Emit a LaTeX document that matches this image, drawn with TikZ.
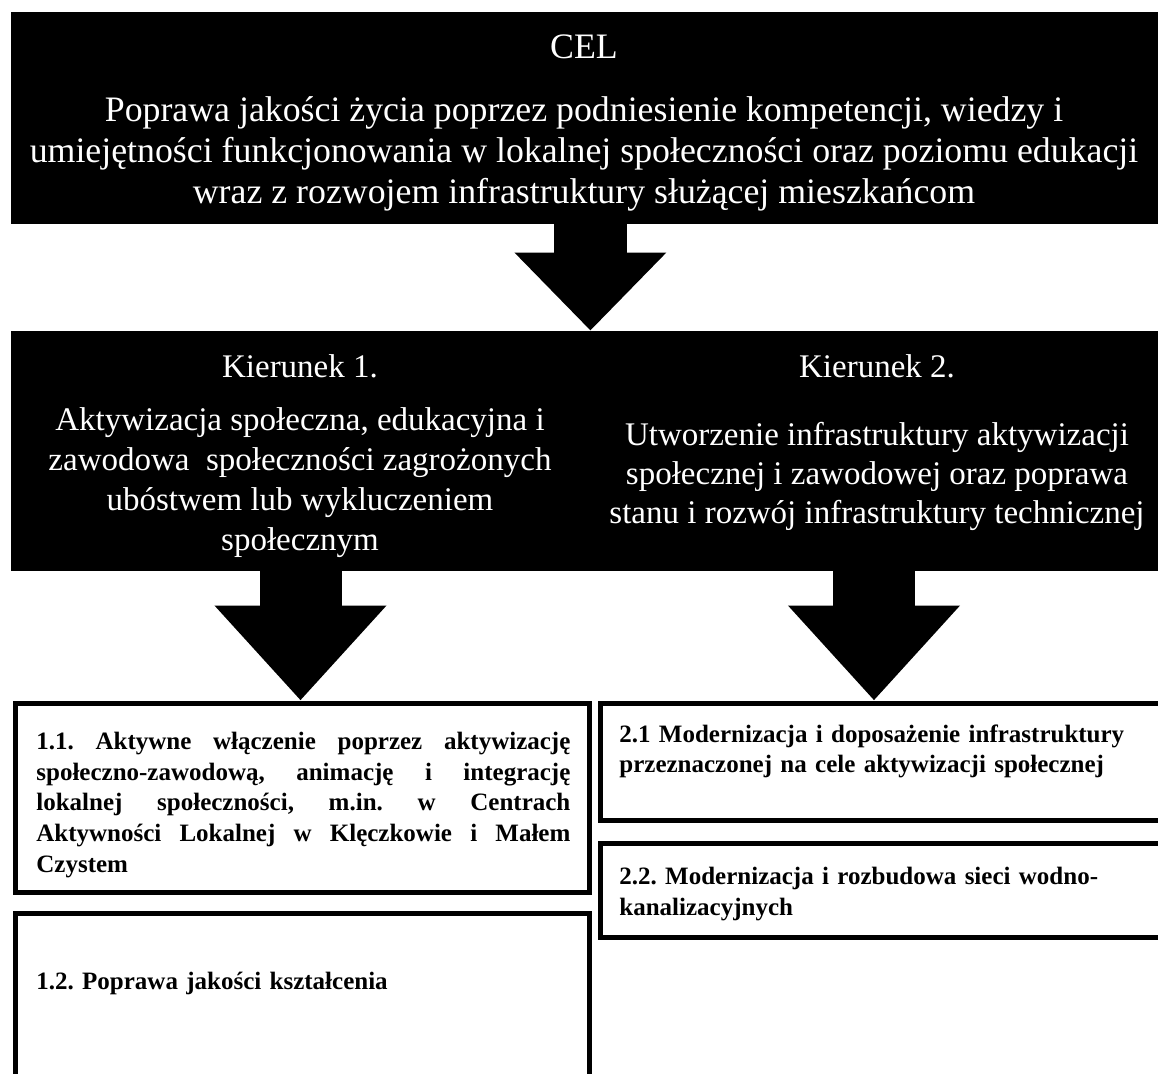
\documentclass[tikz,border=0pt]{standalone}
\usepackage{fontspec}
\setmainfont{Liberation Serif}
\usetikzlibrary{arrows.meta,fit,calc}

\begin{document}
\frenchspacing
\begin{tikzpicture}[x=0.5pt,y=-0.5pt,
  darkbox/.style={fill=black,inner sep=0pt},
  darktext/.style={text=white,inner sep=0pt,align=center,anchor=north},
  taskbox/.style={draw=black,line width=2.5pt,fill=white,inner sep=0pt},
  tasktext/.style={inner sep=0pt,anchor=north west,text width=267pt,
    font=\bfseries\fontsize{12.5}{15.3}\selectfont},
  bigarrow/.style n args={3}{line width=#1,
    -{Triangle[length=#3,width=#2]}}]
\useasboundingbox (0,0) rectangle (1158,1073);

% goal
\node[darkbox,fit={(11,12) (1158,224)}] (cel) {};
\node[darktext,font=\fontsize{17.9}{20.5}\selectfont] (celtxt) at (584,34)
  {CEL\\[11.2pt]
   Poprawa jakości życia poprzez podniesienie kompetencji, wiedzy i\\
   umiejętności funkcjonowania w lokalnej społeczności oraz poziomu edukacji\\
   wraz z rozwojem infrastruktury służącej mieszkańcom};

% two directions
\node[darkbox,fit={(11,331) (590,571)}] (dir1) {};
\node[darkbox,fit={(590,331) (1158,571)}] (dir2) {};
\node[darktext,font=\fontsize{16.5}{20}\selectfont] (dir1txt) at (300,354)
  {Kierunek 1.\\[6.5pt]
   Aktywizacja społeczna, edukacyjna i\\
   zawodowa \ społeczności zagrożonych\\
   ubóstwem lub wykluczeniem\\
   społecznym};
\node[darktext,font=\fontsize{16.5}{19.5}\selectfont] (dir2txt) at (877,354)
  {Kierunek 2.\\[14.5pt]
   Utworzenie infrastruktury aktywizacji\\
   społecznej i zawodowej oraz poprawa\\
   stanu i rozwój infrastruktury technicznej};

% tasks
\node[taskbox,fit={(15,703) (589,892)}] (t11) {};
\node[taskbox,fit={(15,913) (589,1090)}] (t12) {};
\node[taskbox,fit={(600,703) (1170,820)}] (t21) {};
\node[taskbox,fit={(600,843) (1170,937)}] (t22) {};
\node[tasktext,align=justify] (t11txt) at (36,732)
  {1.1. Aktywne włączenie poprzez aktywizację\linebreak
   społeczno-zawodową, animację i integrację\linebreak
   lokalnej społeczności, m.in. w Centrach\linebreak
   Aktywności Lokalnej w Klęczkowie i Małem\linebreak
   Czystem};
\node[tasktext,align=left] (t12txt) at (36,972)
  {1.2. Poprawa jakości kształcenia};
\node[tasktext,align=left] (t21txt) at (619,724)
  {2.1 Modernizacja i doposażenie infrastruktury\\
   przeznaczonej na cele aktywizacji społecznej};
\node[tasktext,align=left] (t22txt) at (619,867)
  {2.2. Modernizacja i rozbudowa sieci wodno-\\
   kanalizacyjnych};

% arrows
\draw[bigarrow={36.5pt}{73.5pt}{39pt}] (cel.south -| dir1.north east) -- (dir1.north east);
\draw[bigarrow={41pt}{83pt}{47.5pt}] (dir1.south) -- (dir1.south |- t11.north);
\draw[bigarrow={41pt}{83pt}{47.5pt}] (dir2.south) -- (dir2.south |- t21.north);
\end{tikzpicture}
\end{document}
